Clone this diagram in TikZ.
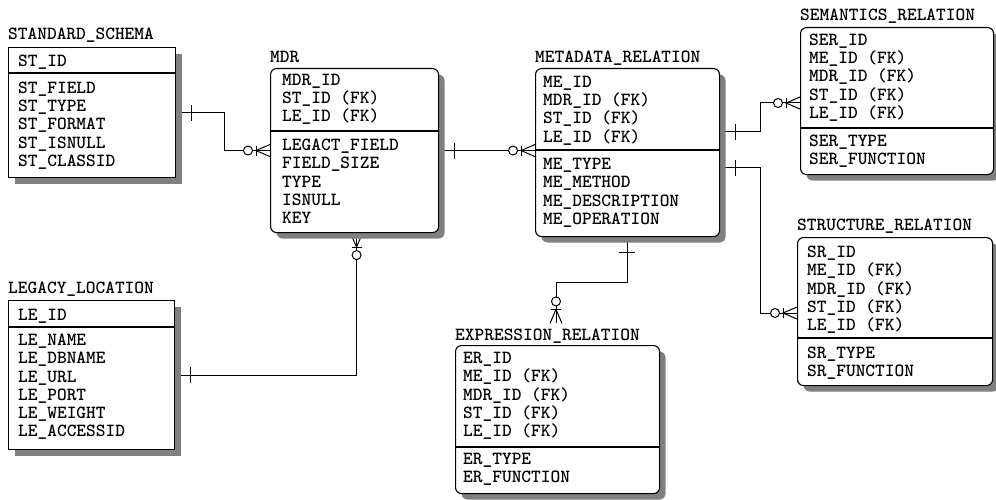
\documentclass[tikz,border=0pt]{standalone}
\usepackage{fontspec}
\newcommand\erf{\ttfamily\bfseries\fontsize{18.5}{18.5}\selectfont}
\usetikzlibrary{calc}
\pgfdeclarelayer{background}
\pgfsetlayers{background,main}
\definecolor{shadowc}{gray}{0.5}
\newcommand\tblrows[4]{\foreach \t [count=\i] in {#4} {\node[row] (#1\i) at (#2,{#3+(\i-1)*18.3}) {\t};}}

\begin{document}
\begin{tikzpicture}[x=1pt,y=-1pt,
  tbl/.style={draw, line width=1.1pt, fill=white, inner sep=0pt, anchor=north west,
    preaction={fill=shadowc, transform canvas={xshift=6pt,yshift=-6pt}}},
  rtbl/.style={tbl, rounded corners=6pt},
  title/.style={anchor=west, inner sep=0pt, font=\erf, text height=10.8pt, text depth=0pt},
  row/.style={title},
  divider/.style={line width=1.1pt},
  conn/.style={line width=1pt},
  crowend/.pic={
    \draw[conn] (0pt,6pt) -- (14pt,0pt) -- (0pt,-6pt);
    \draw[conn] (0pt,0pt) -- (14pt,0pt);
    \draw[conn] (14pt,-5pt) -- (14pt,5pt);
    \draw[conn,fill=white] (22pt,0pt) circle[radius=4.5pt];
  },
  onetick/.pic={
    \draw[conn] (15pt,-8pt) -- (15pt,8pt);
  }]
\useasboundingbox (0,0) rectangle (996,500);

% ---------- STANDARD_SCHEMA ----------
\node[title] (sst) at (8,34) {STANDARD\_SCHEMA};
\node[tbl, minimum width=167pt, minimum height=130pt] (ss) at (8,47) {};
\draw[divider] ($(ss.north west)+(0,26)$) -- ($(ss.north east)+(0,26)$);
\node[row] (ssk) at (18,61) {ST\_ID};
\tblrows{ssa}{18}{88}{ST\_FIELD,ST\_TYPE,ST\_FORMAT,ST\_ISNULL,ST\_CLASSID}

% ---------- MDR ----------
\node[title] (mdrt) at (270,57) {MDR};
\node[rtbl, minimum width=168pt, minimum height=164pt] (mdr) at (270,68) {};
\draw[divider] ($(mdr.north west)+(0,63)$) -- ($(mdr.north east)+(0,63)$);
\tblrows{mdrk}{282}{80}{MDR\_ID,ST\_ID (FK),LE\_ID (FK)}
\tblrows{mdra}{282}{145}{LEGACT\_FIELD,FIELD\_SIZE,TYPE,ISNULL,KEY}

% ---------- METADATA_RELATION ----------
\node[title] (metat) at (535,57) {METADATA\_RELATION};
\node[rtbl, minimum width=184pt, minimum height=168pt] (meta) at (535,68) {};
\draw[divider] ($(meta.north west)+(0,82)$) -- ($(meta.north east)+(0,82)$);
\tblrows{metak}{543}{82}{ME\_ID,MDR\_ID (FK),ST\_ID (FK),LE\_ID (FK)}
\tblrows{metaa}{543}{164}{ME\_TYPE,ME\_METHOD,ME\_DESCRIPTION,ME\_OPERATION}

% ---------- SEMANTICS_RELATION ----------
\node[title] (semt) at (800,15) {SEMANTICS\_RELATION};
\node[rtbl, minimum width=193pt, minimum height=147pt] (sem) at (800,27) {};
\draw[divider] ($(sem.north west)+(0,101)$) -- ($(sem.north east)+(0,101)$);
\tblrows{semk}{809}{40}{SER\_ID,ME\_ID (FK),MDR\_ID (FK),ST\_ID (FK),LE\_ID (FK)}
\tblrows{sema}{809}{141}{SER\_TYPE,SER\_FUNCTION}

% ---------- STRUCTURE_RELATION ----------
\node[title] (strt) at (797,225) {STRUCTURE\_RELATION};
\node[rtbl, minimum width=195pt, minimum height=148pt] (str) at (797,237) {};
\draw[divider] ($(str.north west)+(0,101)$) -- ($(str.north east)+(0,101)$);
\tblrows{strk}{807}{252}{SR\_ID,ME\_ID (FK),MDR\_ID (FK),ST\_ID (FK),LE\_ID (FK)}
\tblrows{stra}{807}{353}{SR\_TYPE,SR\_FUNCTION}

% ---------- EXPRESSION_RELATION ----------
\node[title] (exprt) at (455,335) {EXPRESSION\_RELATION};
\node[rtbl, minimum width=204pt, minimum height=148pt] (expr) at (455,345) {};
\draw[divider] ($(expr.north west)+(0,102)$) -- ($(expr.north east)+(0,102)$);
\tblrows{exprk}{463}{358}{ER\_ID,ME\_ID (FK),MDR\_ID (FK),ST\_ID (FK),LE\_ID (FK)}
\tblrows{expra}{463}{459}{ER\_TYPE,ER\_FUNCTION}

% ---------- LEGACY_LOCATION ----------
\node[title] (legt) at (8,288) {LEGACY\_LOCATION};
\node[tbl, minimum width=166pt, minimum height=149pt] (leg) at (8,300) {};
\draw[divider] ($(leg.north west)+(0,27)$) -- ($(leg.north east)+(0,27)$);
\node[row] (legk) at (18,315) {LE\_ID};
\tblrows{lega}{18}{340}{LE\_NAME,LE\_DBNAME,LE\_URL,LE\_PORT,LE\_WEIGHT,LE\_ACCESSID}

% ---------- connectors ----------
\begin{pgfonlayer}{background}
  \coordinate (b1) at (224,0);
  \coordinate (b2) at (760,0);
  \coordinate (m1) at ($(meta.north east)+(0,64)$);
  \coordinate (m2) at ($(meta.north east)+(0,100)$);
  \coordinate (s1) at ($(sem.north west)+(0,76)$);
  \coordinate (t1) at ($(str.north west)+(0,76)$);
  \coordinate (q1) at ($(mdr.south)+(2,0)$);
  \coordinate (e0) at ($(meta.south west)+(92,0)$);
  \coordinate (e1) at ($(exprt.north west)+(101,-6)$);
  \coordinate (p2) at (mdr.east -| meta.west);

  % STANDARD_SCHEMA -> MDR
  \draw[conn] (ss.east) -- (ss.east -| b1) |- (mdr.west);
  \pic at (ss.east) {onetick};
  \pic[rotate=180] at (mdr.west) {crowend};

  % MDR -> METADATA_RELATION
  \draw[conn] (mdr.east) -- (p2);
  \pic at (mdr.east) {onetick};
  \pic[rotate=180] at (p2) {crowend};

  % METADATA_RELATION -> SEMANTICS_RELATION
  \draw[conn] (m1) -- (m1 -| b2) |- (s1);
  \pic at (m1) {onetick};
  \pic[rotate=180] at (s1) {crowend};

  % METADATA_RELATION -> STRUCTURE_RELATION
  \draw[conn] (m2) -- (m2 -| b2) |- (t1);
  \pic at (m2) {onetick};
  \pic[rotate=180] at (t1) {crowend};

  % LEGACY_LOCATION -> MDR
  \draw[conn] (leg.east) -| (q1);
  \pic at (leg.east) {onetick};
  \pic[rotate=-90] at (q1) {crowend};

  % METADATA_RELATION -> EXPRESSION_RELATION
  \draw[conn] (e0) -- ++(0,45) -| (e1);
  \pic[rotate=-90] at (e0) {onetick};
  \pic[rotate=90] at (e1) {crowend};
\end{pgfonlayer}
\end{tikzpicture}
\end{document}
